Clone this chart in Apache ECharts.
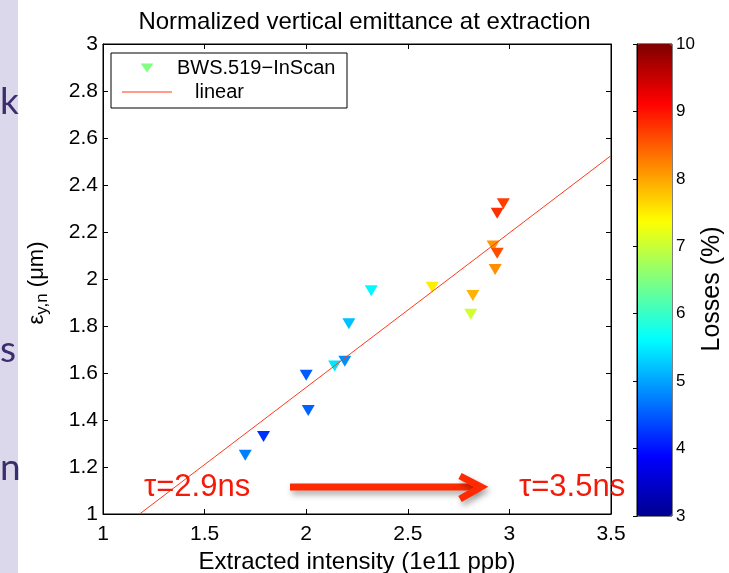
<!DOCTYPE html>
<html>
<head>
<meta charset="utf-8">
<script src="https://cdn.jsdelivr.net/npm/echarts@6/dist/echarts.min.js"></script>
<style>
html, body { margin: 0; padding: 0; background: #fff; }
#main { width: 729px; height: 573px; }
</style>
</head>
<body>
<div id="main"></div>
<script>
// values
var intensity = [1.70, 1.79, 2.01, 2.00, 2.14, 2.19, 2.21, 2.32, 2.62, 2.82, 2.81, 2.93, 2.92, 2.94, 2.94, 2.97];
var emittance = [1.25, 1.33, 1.44, 1.59, 1.63, 1.65, 1.81, 1.95, 1.965, 1.93, 1.85, 2.04, 2.14, 2.11, 2.28, 2.32];
var losses = [4.75, 4.2, 4.55, 4.5, 5.45, 4.85, 5.2, 5.6, 7.5, 7.9, 7.05, 8.15, 8.1, 8.6, 8.8, 8.7];
var fitX = [1.18, 3.5];
var fitY = [1.0, 2.525];
var jet = ['#000090', '#0000ff', '#0080ff', '#00ffff', '#80ff80', '#ffff00', '#ff8000', '#ff0000', '#800000'];

var font = 'Liberation Sans, Arial, Helvetica, sans-serif';
var chartDom = document.getElementById('main');
var myChart = echarts.init(chartDom);
var option;

var points = intensity.map(function (x, i) {
    return [x, emittance[i], losses[i]];
});
var fitLine = fitX.map(function (x, i) {
    return [x, fitY[i]];
});

option = {
    animation: false,
    textStyle: { fontFamily: font, color: '#000' },
    title: {
        text: 'Normalized vertical emittance at extraction',
        left: 'center',
        top: 5,
        textStyle: { fontFamily: font, fontSize: 24, fontWeight: 'normal', color: '#000' }
    },
    legend: {
        data: [
            { name: 'BWS.519\u2212InScan', icon: 'path://M0,0 L14,0 L7,10 Z', itemStyle: { color: '#80ff80' } },
            { name: 'linear', icon: 'path://M0,0 L50,0 L50,1 L0,1 Z', itemStyle: { color: '#ff3a1a' }, textStyle: { padding: [0, 0, 0, 18] } }
        ],
        orient: 'vertical',
        left: 122,
        top: 58,
        itemWidth: 50,
        itemHeight: 9,
        itemGap: 4,
        padding: 0,
        selectedMode: false,
        textStyle: { fontFamily: font, fontSize: 20, color: '#000' }
    },
    grid: [
        { left: 103, top: 44, width: 508, height: 470, show: true, borderColor: '#000', borderWidth: 1, outerBoundsMode: 'none' },
        { left: 637, top: 44, width: 35, height: 472, show: true, borderColor: '#000', borderWidth: 1, outerBoundsMode: 'none' }
    ],
    xAxis: [
        {
            type: 'value', gridIndex: 0, min: 1, max: 3.5, interval: 0.5,
            name: 'Extracted intensity (1e11 ppb)', nameLocation: 'middle', nameGap: 29,
            nameTextStyle: { fontFamily: font, fontSize: 24, color: '#000' },
            axisLine: { lineStyle: { color: '#000' } },
            axisTick: { inside: true, length: 5, lineStyle: { color: '#000' } },
            axisLabel: { fontSize: 21, color: '#000', margin: 10 },
            splitLine: { show: false }
        },
        {
            type: 'value', gridIndex: 0, position: 'top', min: 1, max: 3.5, interval: 0.5,
            axisLine: { lineStyle: { color: '#000' } },
            axisTick: { inside: true, length: 5, lineStyle: { color: '#000' } },
            axisLabel: { show: false },
            splitLine: { show: false }
        },
        { type: 'value', gridIndex: 1, min: 0, max: 1, show: false }
    ],
    yAxis: [
        {
            type: 'value', gridIndex: 0, min: 1, max: 3, interval: 0.2,
            name: '{e|\u03b5}{s|y,n}{t| (\u03bcm)}', nameLocation: 'middle', nameGap: 52, nameRotate: 90,
            nameTextStyle: {
                fontFamily: font, fontSize: 22, color: '#000', padding: [0, 8, 0, 0],
                rich: {
                    e: { fontSize: 22, fontFamily: font, color: '#000' },
                    s: { fontSize: 17, fontFamily: font, color: '#000', padding: [12, 0, 0, 0], verticalAlign: 'bottom' },
                    t: { fontSize: 22, fontFamily: font, color: '#000' }
                }
            },
            axisLine: { lineStyle: { color: '#000' } },
            axisTick: { inside: true, length: 5, lineStyle: { color: '#000' } },
            axisLabel: {
                fontSize: 21, color: '#000', margin: 5,
                formatter: function (v) { return String(Math.round(v * 10) / 10); }
            },
            splitLine: { show: false }
        },
        {
            type: 'value', gridIndex: 0, position: 'right', min: 1, max: 3, interval: 0.2,
            axisLine: { lineStyle: { color: '#000' } },
            axisTick: { inside: true, length: 5, lineStyle: { color: '#000' } },
            axisLabel: { show: false },
            splitLine: { show: false }
        },
        {
            type: 'value', gridIndex: 1, position: 'right', min: 3, max: 10, interval: 1, z: 5,
            name: 'Losses (%)', nameLocation: 'middle', nameGap: 28, nameRotate: 90,
            nameTextStyle: { fontFamily: font, fontSize: 25, color: '#000', padding: [0, 18, 0, 0] },
            axisLine: { lineStyle: { color: '#000' } },
            axisTick: { inside: true, length: 4, lineStyle: { color: '#000' } },
            axisLabel: { fontSize: 17, color: '#000', margin: 4 },
            splitLine: { show: false }
        }
    ],
    visualMap: {
        type: 'continuous',
        min: 3,
        max: 10,
        dimension: 2,
        seriesIndex: 0,
        left: 637,
        top: 44,
        itemWidth: 35,
        itemHeight: 472,
        padding: 0,
        calculable: false,
        hoverLink: false,
        z: 1,
        inRange: { color: jet }
    },
    series: [
        {
            name: 'BWS.519\u2212InScan',
            type: 'scatter',
            xAxisIndex: 0,
            yAxisIndex: 0,
            symbol: 'triangle',
            symbolRotate: 180,
            symbolSize: [13, 11],
            itemStyle: { color: '#80ff80', opacity: 1 },
            data: points
        },
        {
            name: 'linear',
            type: 'line',
            xAxisIndex: 0,
            yAxisIndex: 0,
            symbol: 'none',
            lineStyle: { color: '#ff3a1a', width: 1 },
            itemStyle: { color: '#ff3a1a' },
            data: fitLine
        }
    ],
    graphic: [
        { type: 'rect', z: 3, shape: { x: 0, y: 0, width: 18, height: 573 }, style: { fill: '#dcd8ec' } },
        { type: 'text', z: 3, style: { text: 'k', x: 0, y: 102, fill: '#3b2d6e', font: '37px Lato, sans-serif', verticalAlign: 'middle' } },
        { type: 'text', z: 3, style: { text: 's', x: 0, y: 350, fill: '#3b2d6e', font: '37px Lato, sans-serif', verticalAlign: 'middle' } },
        { type: 'text', z: 3, style: { text: 'n', x: 0, y: 468, fill: '#3b2d6e', font: '37px Lato, sans-serif', verticalAlign: 'middle' } },
        { type: 'rect', z: 3, shape: { x: 111, y: 53, width: 236, height: 55 }, style: { fill: '#fff', stroke: '#000', lineWidth: 1 } },
        { type: 'text', z: 10, style: { text: '\u03c4=2.9ns', x: 144, y: 487, fill: '#f41a0a', font: '31px "Liberation Sans", Arial, sans-serif', verticalAlign: 'middle' } },
        { type: 'text', z: 10, style: { text: '\u03c4=3.5ns', x: 519, y: 487, fill: '#f41a0a', font: '31px "Liberation Sans", Arial, sans-serif', verticalAlign: 'middle' } },
        {
            type: 'line', z: 10, shape: { x1: 290, y1: 487, x2: 476, y2: 487 },
            style: { stroke: '#ff2a00', lineWidth: 7, shadowBlur: 6, shadowOffsetX: 2, shadowOffsetY: 4, shadowColor: 'rgba(0,0,0,0.35)' }
        },
        {
            type: 'polyline', z: 10, shape: { points: [[460, 476], [481, 487], [460, 499]] },
            style: { stroke: '#ff2a00', fill: null, lineWidth: 7, lineJoin: 'miter', shadowBlur: 6, shadowOffsetX: 2, shadowOffsetY: 4, shadowColor: 'rgba(0,0,0,0.35)' }
        }
    ]
};

option && myChart.setOption(option);
</script>
</body>
</html>
